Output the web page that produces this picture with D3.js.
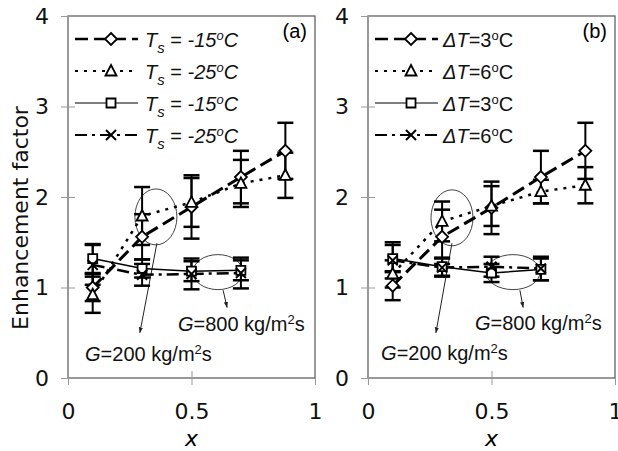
<!DOCTYPE html>
<html><head><meta charset="utf-8">
<script src="https://cdn.jsdelivr.net/npm/d3@7"></script>
<style>body{margin:0;background:#fff} svg{display:block}</style>
</head><body>
<svg id="chart" width="618" height="451"></svg>
<script>
// ---------- data ----------
const xTicks = [0, 0.5, 1];
const yTicks = [0, 1, 2, 3, 4];
const xG200 = [0.1, 0.3, 0.5, 0.7, 0.88];
const xG800 = [0.1, 0.3, 0.5, 0.7];

// panel (a)
const aDiamond = [1.00, 1.56, 1.89, 2.22, 2.51];
const aDiamondErr = [0.15, 0.25, 0.35, 0.29, 0.31];
const aTriangle = [0.92, 1.79, 1.94, 2.15, 2.24];
const aTriangleErr = [0.20, 0.32, 0.27, 0.26, 0.25];
const aSquare = [1.32, 1.21, 1.18, 1.19];
const aSquareErr = [0.16, 0.10, 0.11, 0.11];
const aCross = [1.25, 1.14, 1.15, 1.16];
const aCrossErr = [0.22, 0.12, 0.17, 0.17];

// panel (b)
const bDiamond = [1.02, 1.56, 1.88, 2.22, 2.51];
const bDiamondErr = [0.16, 0.30, 0.29, 0.29, 0.31];
const bTriangle = [1.15, 1.73, 1.90, 2.06, 2.13];
const bTriangleErr = [0.15, 0.22, 0.22, 0.13, 0.20];
const bSquare = [1.32, 1.23, 1.16, 1.20];
const bSquareErr = [0.15, 0.10, 0.10, 0.12];
const bCross = [1.30, 1.22, 1.23, 1.21];
const bCrossErr = [0.20, 0.10, 0.11, 0.13];

const legendA = ["-15", "-25", "-15", "-25"];
const legendB = ["3", "6", "3", "6"];
const panelTags = ["(a)", "(b)"];
const gLabels = ["200", "800"];

// ---------- layout ----------
const svg = d3.select("#chart");
const yRange = [378, 16];
const panels = [
  {x0: 68, x1: 315, tag: panelTags[0], kind: "a",
   series: [
     {x: xG200, y: aDiamond, e: aDiamondErr, m: "diamond"},
     {x: xG200, y: aTriangle, e: aTriangleErr, m: "triangle"},
     {x: xG800, y: aSquare, e: aSquareErr, m: "square"},
     {x: xG800, y: aCross, e: aCrossErr, m: "cross"}],
   legend: legendA,
   ell: [[0.356, 1.78, 21, 28], [0.607, 1.17, 25, 17.5]],
   arr: [[0.36, 1.49, 0.291, 0.50], [0.628, 0.97, 0.644, 0.78]],
   gtxt: [[0.069, 0.19], [0.445, 0.52]]},
  {x0: 368, x1: 615, tag: panelTags[1], kind: "b",
   series: [
     {x: xG200, y: bDiamond, e: bDiamondErr, m: "diamond"},
     {x: xG200, y: bTriangle, e: bTriangleErr, m: "triangle"},
     {x: xG800, y: bSquare, e: bSquareErr, m: "square"},
     {x: xG800, y: bCross, e: bCrossErr, m: "cross"}],
   legend: legendB,
   ell: [[0.34, 1.77, 21, 28], [0.587, 1.17, 27, 17.5]],
   arr: [[0.34, 1.49, 0.275, 0.50], [0.615, 0.97, 0.628, 0.78]],
   gtxt: [[0.053, 0.20], [0.433, 0.53]]}
];

const styles = {
  diamond: {dash: "13,6", w: 3},
  triangle: {dash: "3,6", w: 2.5},
  square: {dash: null, w: 1.5},
  cross: {dash: "12,5,3,5", w: 2.5}
};

function markerPath(m) {
  if (m === "diamond") return "M0,-6L6,0L0,6L-6,0Z";
  if (m === "triangle") return "M0,-6L5.5,4.5L-5.5,4.5Z";
  if (m === "square") return "M-4.5,-4.5H4.5V4.5H-4.5Z";
  return "M-5,-5L5,5M5,-5L-5,5";
}

svg.append("defs").append("marker")
  .attr("id", "arrowhead").attr("viewBox", "0 0 10 10")
  .attr("refX", 9).attr("refY", 5)
  .attr("markerWidth", 6).attr("markerHeight", 6)
  .attr("orient", "auto")
  .append("path").attr("d", "M0,1.5L10,5L0,8.5Z").attr("fill", "#222");

const tickFont = "'DejaVu Sans', Verdana, sans-serif";
const textFont = "'Liberation Sans', Arial, sans-serif";

panels.forEach(p => {
  const x = d3.scaleLinear().domain([0, 1]).range([p.x0, p.x1]);
  const y = d3.scaleLinear().domain([0, 4]).range(yRange);
  const g = svg.append("g");

  // frame
  g.append("rect").attr("x", p.x0).attr("y", yRange[1])
    .attr("width", p.x1 - p.x0).attr("height", yRange[0] - yRange[1])
    .attr("fill", "none").attr("stroke", "#555").attr("stroke-width", 1.2);

  // axes
  const ya = g.append("g").attr("transform", `translate(${p.x0},0)`)
    .call(d3.axisLeft(y).tickValues(yTicks).tickFormat(d3.format("d"))
      .tickSizeInner(6).tickSizeOuter(0).tickPadding(13));
  const xa = g.append("g").attr("transform", `translate(0,${yRange[0]})`)
    .call(d3.axisBottom(x).tickValues(xTicks).tickFormat(d => d === 0.5 ? "0.5" : d3.format("d")(d))
      .tickSizeInner(6).tickSizeOuter(0).tickPadding(19));
  [ya, xa].forEach(a => {
    a.select(".domain").remove();
    a.selectAll("text").attr("font-family", tickFont).attr("font-size", 22).attr("fill", "#111");
  });
  ya.selectAll(".tick line").attr("x1", 7).attr("x2", -7).attr("stroke", "#999");
  xa.selectAll(".tick line").attr("y1", -7).attr("y2", 7).attr("stroke", "#999");

  // x title
  g.append("text").attr("x", (p.x0 + p.x1) / 2).attr("y", 446)
    .attr("text-anchor", "middle").attr("font-family", tickFont)
    .attr("font-style", "italic").attr("font-size", 22).text("x");

  // ellipses and arrows
  p.ell.forEach(e => {
    g.append("ellipse").attr("cx", x(e[0])).attr("cy", y(e[1]))
      .attr("rx", e[2]).attr("ry", e[3])
      .attr("fill", "none").attr("stroke", "#444").attr("stroke-width", 1);
  });
  p.arr.forEach(a => {
    g.append("line").attr("x1", x(a[0])).attr("y1", y(a[1]))
      .attr("x2", x(a[2])).attr("y2", y(a[3]))
      .attr("stroke", "#222").attr("stroke-width", 1)
      .attr("marker-end", "url(#arrowhead)");
  });

  // lines
  p.series.forEach(s => {
    const st = styles[s.m];
    const pts = s.x.map((v, i) => [x(v), y(s.y[i])]);
    g.append("path").attr("d", d3.line()(pts))
      .attr("fill", "none").attr("stroke", "#000")
      .attr("stroke-width", st.w)
      .attr("stroke-dasharray", st.dash);
  });

  // error bars
  p.series.forEach(s => {
    s.x.forEach((v, i) => {
      const cx = x(v), top = y(s.y[i] + s.e[i]), bot = y(s.y[i] - s.e[i]);
      g.append("line").attr("x1", cx).attr("x2", cx).attr("y1", top).attr("y2", bot)
        .attr("stroke", "#000").attr("stroke-width", 2);
      [top, bot].forEach(yy => g.append("line")
        .attr("x1", cx - 8).attr("x2", cx + 8).attr("y1", yy).attr("y2", yy)
        .attr("stroke", "#000").attr("stroke-width", 2.5));
    });
  });

  // markers
  p.series.forEach(s => {
    s.x.forEach((v, i) => {
      g.append("path").attr("d", markerPath(s.m))
        .attr("transform", `translate(${x(v)},${y(s.y[i])})`)
        .attr("fill", s.m === "cross" ? "none" : "#fff")
        .attr("stroke", "#000").attr("stroke-width", s.m === "cross" ? 2 : 1.8);
    });
  });

  // legend
  const lx0 = p.x0 + 7, lx1 = p.x0 + 70, lm = p.x0 + 43, lt = p.x0 + (p.kind === "a" ? 77 : 75);
  p.series.forEach((s, i) => {
    const ly = 39 + i * 32;
    const st = styles[s.m];
    g.append("line").attr("x1", lx0).attr("x2", lx1).attr("y1", ly).attr("y2", ly)
      .attr("stroke", "#000").attr("stroke-width", st.w - 0.5).attr("stroke-dasharray", st.dash);
    g.append("path").attr("d", markerPath(s.m))
      .attr("transform", `translate(${lm},${ly})`)
      .attr("fill", s.m === "cross" ? "none" : "#fff")
      .attr("stroke", "#000").attr("stroke-width", s.m === "cross" ? 2 : 1.8);
    const t = g.append("text").attr("x", lt).attr("y", ly + 7.5)
      .attr("font-family", textFont).attr("font-size", 20).attr("fill", "#111");
    if (p.kind === "a") {
      t.append("tspan").attr("font-style", "italic").text("T");
      t.append("tspan").attr("font-style", "italic").attr("font-size", 15).attr("dy", 6).text("s");
      t.append("tspan").attr("dy", -6).text(" = ");
      t.append("tspan").attr("font-style", "italic").text(p.legend[i]);
      t.append("tspan").attr("font-style", "italic").attr("font-size", 13).attr("dy", -7).text("o");
      t.append("tspan").attr("font-style", "italic").attr("dy", 7).text("C");
    } else {
      t.append("tspan").attr("font-style", "italic").text("\u0394T");
      t.append("tspan").text("=" + p.legend[i]);
      t.append("tspan").attr("font-size", 13).attr("dy", -7).text("o");
      t.append("tspan").attr("dy", 7).text("C");
    }
  });

  // panel tag
  g.append("text").attr("x", p.x1 - 8).attr("y", 38).attr("text-anchor", "end")
    .attr("font-family", textFont).attr("font-size", 20).text(p.tag);

  // G annotations
  p.gtxt.forEach((gt, i) => {
    const t = g.append("text").attr("x", x(gt[0])).attr("y", y(gt[1]))
      .attr("font-family", textFont).attr("font-size", 20).attr("fill", "#111");
    t.append("tspan").attr("font-style", "italic").text("G");
    t.append("tspan").text("=" + gLabels[i] + " kg/m");
    t.append("tspan").attr("font-size", 13).attr("dy", -7).text("2");
    t.append("tspan").attr("dy", 7).text("s");
  });
});

// y title
svg.append("text").attr("transform", "translate(28,218) rotate(-90)")
  .attr("text-anchor", "middle").attr("font-family", tickFont).attr("font-size", 22)
  .attr("fill", "#111").text("Enhancement factor");
</script>
</body></html>
